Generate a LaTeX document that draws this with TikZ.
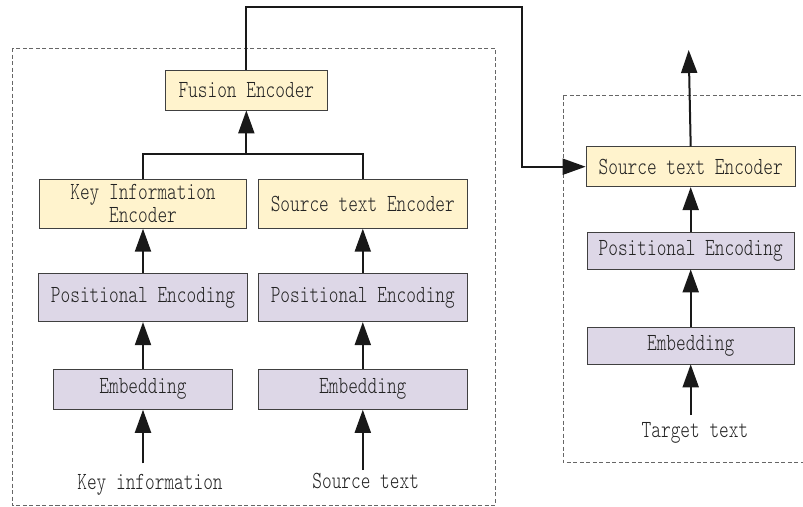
\documentclass[tikz,border=0pt]{standalone}
\usepackage{fontspec}
\newfontfamily\boxfont{Latin Modern Mono Light}[FakeStretch=0.75]
\usetikzlibrary{arrows.meta}
\definecolor{encfill}{HTML}{FFF3CD}
\definecolor{embfill}{HTML}{DDD7E7}
\definecolor{boxline}{HTML}{404040}
\definecolor{txt}{HTML}{222222}
\begin{document}
\begin{tikzpicture}[x=1pt,y=-1pt,
  every node/.style={font=\boxfont\fontsize{24.6}{23}\selectfont, text=txt},
  enc/.style={draw=boxline, line width=0.8pt, fill=encfill, align=center, inner sep=0pt},
  emb/.style={draw=boxline, line width=0.8pt, fill=embfill, align=center, inner sep=0pt},
  lbl/.style={inner sep=0pt},
  frame/.style={draw=black!60, line width=0.8pt, dash pattern=on 4pt off 2.5pt},
  conn/.style={draw=black!90, line width=2pt},
  arr/.style={conn, -{Triangle[length=23pt,width=16pt]}}]
\useasboundingbox (0,0) rectangle (803,506);
\fill[white] (0,0) rectangle (803,506);

% dashed frames
\draw[frame] (12,48) rectangle (495,505);
\draw[frame] (563.3,95.7) -- (810,95.7) (563.3,95.7) -- (563.3,462.7) -- (810,462.7);

% left encoder block
\node[enc, minimum width=161.3pt, minimum height=40pt] (fusion) at (246.35,90) {Fusion Encoder};
\node[enc, minimum width=207.4pt, minimum height=49pt] (kie) at (143,203.8) {Key Information\\Encoder};
\node[enc, minimum width=209pt, minimum height=49pt] (ste) at (362.8,203.8) {Source text Encoder};
\node[emb, minimum width=209.4pt, minimum height=48.4pt] (pe1) at (143,297.5) {Positional Encoding};
\node[emb, minimum width=209pt, minimum height=48.4pt] (pe2) at (362.8,297.5) {Positional Encoding};
\node[emb, minimum width=179.4pt, minimum height=40.3pt] (emb1) at (143,389.2) {Embedding};
\node[emb, minimum width=209pt, minimum height=40.3pt] (emb2) at (362.8,389.2) {Embedding};
\node[lbl] (keyinfo) at (150,485) {Key information};
\node[lbl] (srctext) at (365.7,481) {Source text};

% right block
\node[enc, minimum width=209.3pt, minimum height=40pt] (ste3) at (690.7,166.7) {Source text Encoder};
\node[emb, minimum width=206.7pt, minimum height=36.3pt] (pe3) at (690.7,250.8) {Positional Encoding};
\node[emb, minimum width=206.7pt, minimum height=36.3pt] (emb3) at (690.7,345.8) {Embedding};
\node[lbl] (target) at (695,433.3) {Target text};

% coordinates
\coordinate (kin) at (143,463.3);
\coordinate (sin) at (362.8,470);
\coordinate (tin) at (690.7,415);
\coordinate (jn) at (246.35,154);
\coordinate (turn) at (522.3,7.3);
\coordinate (out) at (688.7,50);

% connectors left
\draw[arr] (kin) -- (emb1.south);
\draw[arr] (sin) -- (emb2.south);
\draw[arr] (emb1.north) -- (pe1.south);
\draw[arr] (emb2.north) -- (pe2.south);
\draw[arr] (pe1.north) -- (kie.south);
\draw[arr] (pe2.north) -- (ste.south);
\draw[conn] (kie.north) |- (jn) -| (ste.north);
\draw[arr] (jn) -- (fusion.south);
\draw[arr] (fusion.north) |- (turn) |- (ste3.west);

% connectors right
\draw[arr] (tin) -- (emb3.south);
\draw[arr] (emb3.north) -- (pe3.south);
\draw[arr] (pe3.north) -- (ste3.south);
\draw[arr] (ste3.north) -- (out);
\end{tikzpicture}
\end{document}
